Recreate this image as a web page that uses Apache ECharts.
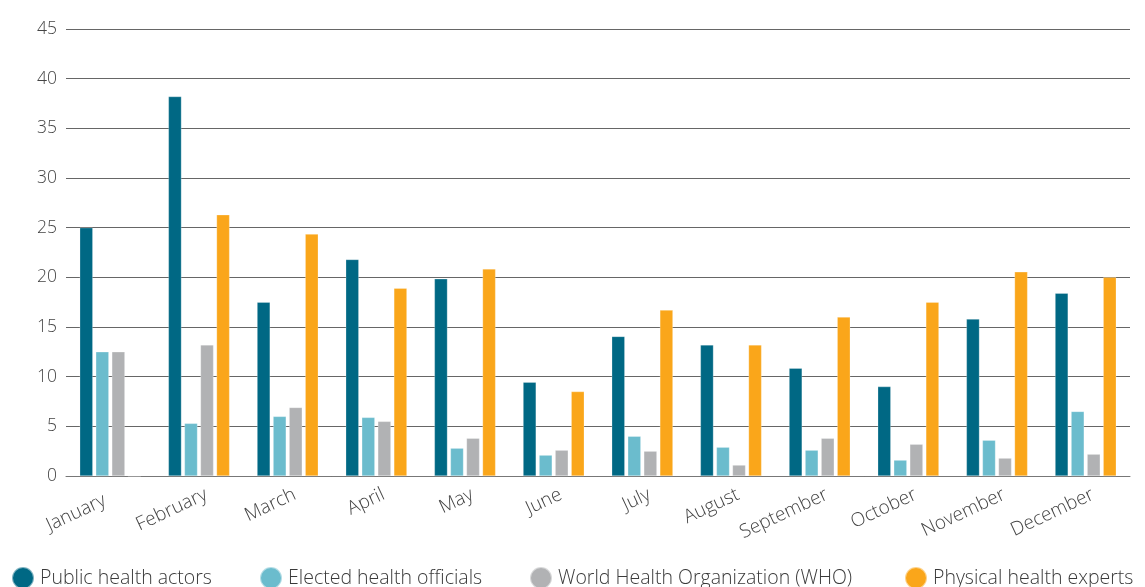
<!DOCTYPE html>
<html>
<head>
<meta charset="utf-8">
<script src="https://cdn.jsdelivr.net/npm/echarts@6/dist/echarts.min.js"></script>
<style>
  html, body { margin: 0; padding: 0; background: #fff; }
  #chart { width: 1145px; height: 587px; }
</style>
</head>
<body>
<div id="chart"></div>
<script>
// months on the x axis
const months = ['January', 'February', 'March', 'April', 'May', 'June',
  'July', 'August', 'September', 'October', 'November', 'December'];

// series values
const publicHealthActors = [25, 38.2, 17.5, 21.8, 19.85, 9.45, 14.05, 13.2, 10.85, 9.0, 15.8, 18.4];
const electedOfficials = [12.5, 5.3, 6.0, 5.9, 2.8, 2.1, 4.0, 2.9, 2.6, 1.6, 3.6, 6.5];
const who = [12.5, 13.2, 6.9, 5.5, 3.8, 2.6, 2.5, 1.1, 3.8, 3.2, 1.8, 2.2];
const physicalExperts = [0, 26.3, 24.35, 18.9, 20.85, 8.5, 16.7, 13.2, 16.0, 17.5, 20.55, 20.0];

const seriesNames = ['Public health actors', 'Elected health officials',
  'World Health Organization (WHO)', 'Physical health experts'];
const colors = ['#006884', '#6bbccd', '#b1b2b4', '#faa61a'];
// left edge of each legend entry
const legendLefts = [11, 259, 529, 904];

const chart = echarts.init(document.getElementById('chart'));

const makeBar = (name, data) => ({
  name: name,
  type: 'bar',
  data: data,
  barGap: '23%',
  barCategoryGap: '31%',
  itemStyle: { borderColor: 'rgba(255,255,255,0.5)', borderWidth: 0.5 }
});

const labelFont = { fontSize: 19, color: '#444', fontWeight: 300, fontFamily: '"Open Sans", sans-serif' };

chart.setOption({
  color: colors,
  textStyle: { fontFamily: '"Open Sans", sans-serif', fontWeight: 300 },
  animation: false,
  grid: { left: 66, right: 15, top: 29, bottom: 111 },
  legend: seriesNames.map((name, i) => ({
    left: legendLefts[i],
    top: 566,
    padding: 0,
    icon: 'circle',
    itemWidth: 22,
    itemHeight: 22,
    textStyle: { fontSize: 19.5, color: '#3a3a3a', fontWeight: 300, padding: [0, 0, 0, 1] },
    data: [name]
  })),
  xAxis: {
    type: 'category',
    data: months,
    axisLine: { lineStyle: { color: '#777', width: 1 } },
    axisTick: { show: false },
    axisLabel: {
      rotate: 25,
      margin: 21,
      align: 'right',
      verticalAlign: 'middle',
      // pushes the label end a little past the category centre
      padding: [0, -8, 0, 0],
      ...labelFont,
      interval: 0,
      // the first label sits a bit further left in the original
      formatter: (v, i) => i === 0 ? '{first|' + v + '}' : '{m|' + v + '}',
      rich: {
        m: { ...labelFont },
        first: { ...labelFont, padding: [0, 14, 0, 0] }
      }
    }
  },
  yAxis: {
    type: 'value',
    min: 0,
    max: 45,
    interval: 5,
    axisLine: { show: false },
    axisTick: { show: false },
    axisLabel: { fontSize: 17.5, color: '#444', fontWeight: 300, margin: 9 },
    splitLine: { lineStyle: { color: '#666', width: 1 } }
  },
  series: [
    makeBar(seriesNames[0], publicHealthActors),
    makeBar(seriesNames[1], electedOfficials),
    makeBar(seriesNames[2], who),
    makeBar(seriesNames[3], physicalExperts)
  ]
});
</script>
</body>
</html>
